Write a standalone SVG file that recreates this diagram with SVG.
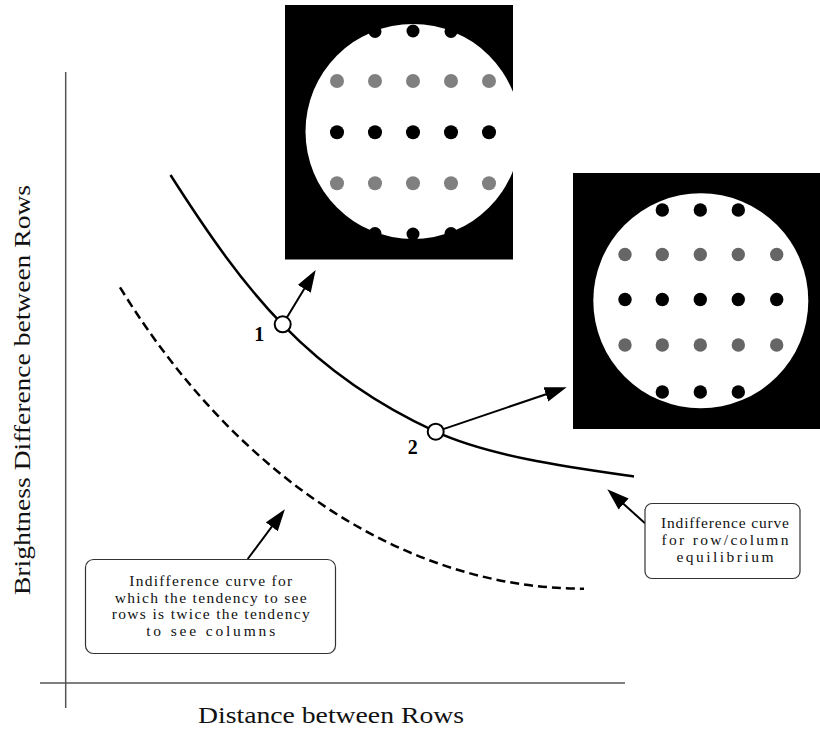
<svg xmlns="http://www.w3.org/2000/svg" width="820" height="729" viewBox="0 0 820 729">
<style>
.axis{stroke:#555;stroke-width:1.5;fill:none}
.curve{stroke:#000;stroke-width:2.5;fill:none}
.dash{stroke-dasharray:9 5}
.arrow{stroke:#000;stroke-width:2;fill:none;marker-end:url(#ah)}
.pt{fill:#fff;stroke:#000;stroke-width:2}
.box{fill:#fff;stroke:#333;stroke-width:1.2}
.bt{font-family:"Liberation Serif",serif;font-size:15.5px;fill:#111;text-anchor:middle}
.ax{font-family:"Liberation Serif",serif;font-size:23px;fill:#111;text-anchor:middle}
.num{font-family:"Liberation Serif",serif;font-size:20px;font-weight:bold;fill:#000;text-anchor:middle}
.blk{fill:#000}
.g1{fill:#808080}
.g2{fill:#666}
</style>
<defs>
<marker id="ah" markerUnits="userSpaceOnUse" markerWidth="24" markerHeight="16" refX="12" refY="7.5" orient="auto">
<path d="M0,0 L22,7.5 L0,15 z" fill="#000"/>
</marker>
<clipPath id="c1"><rect x="285" y="5" width="228" height="254.5"/></clipPath>
</defs>

<g id="axes">
<line class="axis" x1="65.7" y1="72" x2="65.7" y2="708"/>
<line class="axis" x1="40" y1="683" x2="625" y2="683"/>
<text class="ax" x="331" y="723" textLength="266" lengthAdjust="spacingAndGlyphs">Distance between Rows</text>
<text class="ax" transform="translate(30,390) rotate(-90)" x="0" y="0" textLength="410" lengthAdjust="spacingAndGlyphs">Brightness Difference between Rows</text>
</g>

<g id="panel1">
<rect x="285" y="5" width="228" height="254.5" fill="#000"/>
<g clip-path="url(#c1)">
<circle cx="413" cy="131.5" r="107.5" fill="#fff"/>
</g>
<g class="blk">
<circle cx="375" cy="31.5" r="6.5"/><circle cx="413" cy="31" r="6.5"/><circle cx="451" cy="31.5" r="6.5"/>
<circle cx="337" cy="132.3" r="7"/><circle cx="375" cy="132.3" r="7"/><circle cx="413" cy="132.3" r="7"/><circle cx="451" cy="132.3" r="7"/><circle cx="489" cy="132.3" r="7"/>
<circle cx="375" cy="233.5" r="6.5"/><circle cx="413" cy="234" r="6.5"/><circle cx="451" cy="233.5" r="6.5"/>
</g>
<g class="g1">
<circle cx="337" cy="81" r="7"/><circle cx="375" cy="81" r="7"/><circle cx="413" cy="81" r="7"/><circle cx="451" cy="81" r="7"/><circle cx="489" cy="81" r="7"/>
<circle cx="337" cy="183.3" r="7"/><circle cx="375" cy="183.3" r="7"/><circle cx="413" cy="183.3" r="7"/><circle cx="451" cy="183.3" r="7"/><circle cx="489" cy="183.3" r="7"/>
</g>
</g>

<g id="panel2">
<rect x="573" y="173" width="247" height="256" fill="#000"/>
<circle cx="700.8" cy="300.8" r="107.5" fill="#fff"/>
<g class="blk">
<circle cx="662.3" cy="210" r="6.7"/><circle cx="700.3" cy="210" r="6.7"/><circle cx="738.3" cy="210" r="6.7"/>
<circle cx="625" cy="299.5" r="6.7"/><circle cx="662.3" cy="299.5" r="6.7"/><circle cx="700.3" cy="299.5" r="6.7"/><circle cx="738.3" cy="299.5" r="6.7"/><circle cx="776.7" cy="299.5" r="6.7"/>
<circle cx="662.3" cy="392" r="6.7"/><circle cx="700.3" cy="392" r="6.7"/><circle cx="738.3" cy="392" r="6.7"/>
</g>
<g class="g2">
<circle cx="625" cy="254.5" r="6.7"/><circle cx="662.3" cy="254.5" r="6.7"/><circle cx="700.3" cy="254.5" r="6.7"/><circle cx="738.3" cy="254.5" r="6.7"/><circle cx="776.7" cy="254.5" r="6.7"/>
<circle cx="625" cy="345" r="6.7"/><circle cx="662.3" cy="345" r="6.7"/><circle cx="700.3" cy="345" r="6.7"/><circle cx="738.3" cy="345" r="6.7"/><circle cx="776.7" cy="345" r="6.7"/>
</g>
</g>

<g id="curves">
<path id="curve-equilibrium" class="curve" d="M170.5,175 C245.8,293 308.4,373.2 435.7,431.7 C490,456.8 574,468 634,476.5"/>
<path id="curve-twice" class="curve dash" d="M120,287.3 C235,474.7 404,588.7 584,588.7"/>
</g>

<g id="connectors">
<line class="arrow" x1="286.9" y1="317.5" x2="310.5" y2="278.6"/>
<line class="arrow" x1="443.3" y1="429.1" x2="557.2" y2="390.5"/>
<line class="arrow" x1="645" y1="523.2" x2="614.7" y2="496"/>
<line class="arrow" x1="247.7" y1="559" x2="278.9" y2="517.2"/>
</g>

<g id="point1">
<circle class="pt" cx="282.7" cy="324.3" r="8"/>
<text class="num" x="259.3" y="340.5">1</text>
</g>
<g id="point2">
<circle class="pt" cx="435.7" cy="431.7" r="8"/>
<text class="num" x="412.7" y="453.5">2</text>
</g>

<g id="box-twice">
<rect class="box" x="85.5" y="559.5" width="250" height="94" rx="8"/>
<text class="bt" x="210.7" y="586" textLength="163" lengthAdjust="spacing">Indifference curve for</text>
<text class="bt" x="210.7" y="602.5" textLength="192" lengthAdjust="spacing">which the tendency to see</text>
<text class="bt" x="210.7" y="619" textLength="198" lengthAdjust="spacing">rows is twice the tendency</text>
<text class="bt" x="210.7" y="635.5" textLength="129" lengthAdjust="spacing">to see columns</text>
</g>

<g id="box-equilibrium">
<rect class="box" x="645" y="503.5" width="155" height="75" rx="7"/>
<text class="bt" x="725" y="528" textLength="128" lengthAdjust="spacing">Indifference curve</text>
<text class="bt" x="725" y="545" textLength="127" lengthAdjust="spacing">for row/column</text>
<text class="bt" x="725" y="562" textLength="97" lengthAdjust="spacing">equilibrium</text>
</g>
</svg>
